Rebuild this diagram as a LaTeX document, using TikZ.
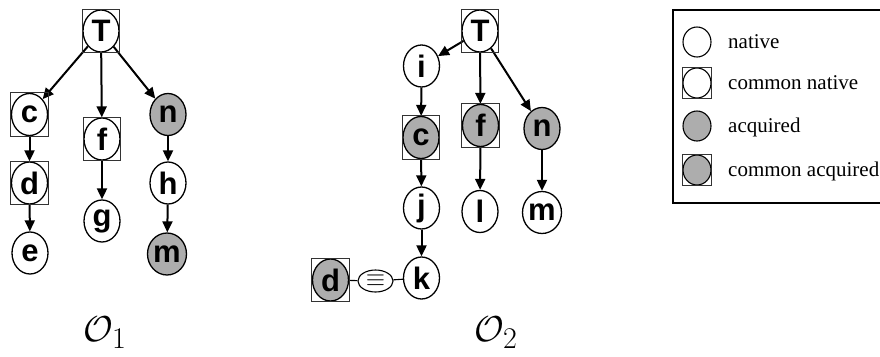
\documentclass[tikz,border=0pt]{standalone}
\usepackage{fontspec}
\setmainfont{Liberation Serif}
\newfontfamily\lsans{Liberation Sans}
\usetikzlibrary{shapes.geometric,arrows.meta}
\definecolor{acqgray}{gray}{0.68}
\definecolor{boxgray}{gray}{0.2}
\tikzset{
  x=1pt, y=-1pt,
  vert/.style={ellipse, draw=black, line width=1.3pt, fill=white, inner sep=0pt,
    minimum width=36pt, minimum height=42pt, font=\lsans\fontsize{31}{31}\selectfont\bfseries},
  acq/.style={vert, fill=acqgray},
  leg/.style={ellipse, draw=black, line width=1.1pt, fill=white, inner sep=0pt,
    minimum width=28pt, minimum height=30pt},
  legacq/.style={leg, fill=acqgray},
  boxline/.style={draw=boxgray, line width=0.9pt},
  arr/.style={line width=2pt, -{Triangle[length=11pt,width=10pt]}},
  plain/.style={line width=1.1pt},
  legtext/.style={anchor=base west, inner sep=0pt, font=\fontsize{21}{24}\selectfont},
  eqnode/.style={ellipse, draw=black, line width=1.1pt, fill=white, inner sep=0pt,
    minimum width=35pt, minimum height=22pt},
  title/.style={inner sep=0pt}
}
\begin{document}
\begin{tikzpicture}
\useasboundingbox (0,0) rectangle (880,356);
\clip (0,0) rectangle (880,356);

% ---------- left tree O1 ----------
\node[vert] (T1) at (101,31) {T};
\node[vert] (c1) at (29.5,114.5) {c};
\node[vert] (d1) at (29.5,183) {d};
\node[vert] (e1) at (30,253) {e};
\node[vert] (f1) at (102,139) {f};
\node[vert] (g1) at (102,221) {g};
\node[acq]  (n1) at (168,114.5) {n};
\node[vert] (h1) at (168,183) {h};
\node[acq]  (m1) at (167,254) {m};

\draw[arr] (T1) -- (c1);
\draw[arr] (T1) -- (f1);
\draw[arr] (T1) -- (n1);
\draw[arr] (c1) -- (d1);
\draw[arr] (d1) -- (e1);
\draw[arr] (f1) -- (g1);
\draw[arr] (n1) -- (h1);
\draw[arr] (h1) -- (m1);

% ---------- right tree O2 ----------
\node[vert] (T2) at (480,31) {T};
\node[vert] (i2) at (421.5,66) {i};
\node[acq]  (c2) at (421,137.5) {c};
\node[acq]  (f2) at (480.5,125.5) {f};
\node[acq]  (n2) at (542,128.5) {n};
\node[vert] (j2) at (421.5,208) {j};
\node[vert] (l2) at (480,211.5) {l};
\node[vert] (m2) at (542,212.5) {m};
\node[vert] (k2) at (421.5,278) {k};
\node[acq]  (d2) at (330.5,280) {d};
\node[eqnode] (eq) at (375.5,281) {\fontsize{24}{24}\selectfont$\equiv$};

\draw[arr] (T2) -- (i2);
\draw[arr] (T2) -- (f2);
\draw[arr] (T2) -- (n2);
\draw[arr] (i2) -- (c2);
\draw[arr] (c2) -- (j2);
\draw[arr] (j2) -- (k2);
\draw[arr] (f2) -- (l2);
\draw[arr] (n2) -- (m2);
\draw[plain] (d2) -- (eq);
\draw[plain] (eq) -- (k2);

% boxes of common nodes
\foreach \n in {T1,c1,d1,f1,T2,c2,f2,d2}
  \draw[boxline] (\n.west |- \n.north) rectangle (\n.east |- \n.south);

% titles
\node[title] (o1) at (105,333) {\scalebox{1.45}{\Huge $\mathcal{O}_1$}};
\node[title] (o2) at (496,333) {\scalebox{1.45}{\Huge $\mathcal{O}_2$}};

% ---------- legend ----------
\draw[line width=1.1pt] (673,10) rectangle (900,203);
\node[leg]    (L1) at (697,42) {};
\node[leg]    (L2) at (697,83) {};
\node[legacq] (L3) at (697,126) {};
\node[legacq] (L4) at (697,170) {};
\foreach \n in {L2,L4}
  \draw[boxline] (\n.west |- \n.north) rectangle (\n.east |- \n.south);
\node[legtext] (t1) at (728,48) {native};
\node[legtext] (t2) at (728,89) {common native};
\node[legtext] (t3) at (728,132) {acquired};
\node[legtext] (t4) at (728,176) {common acquired};
\end{tikzpicture}
\end{document}
